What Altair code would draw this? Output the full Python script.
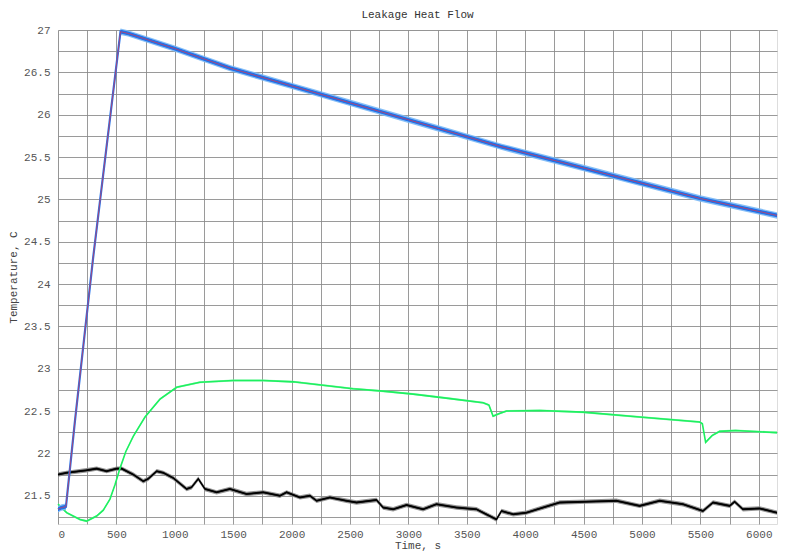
import altair as alt
import pandas as pd

FONT = "Courier New, Liberation Mono, monospace"

# Setpoint / heater temperature (blue noisy + red smooth)
set_t = [0, 30, 68, 145, 300, 535, 600, 1000, 1473, 2000, 2500, 3000, 3800, 4500, 5000, 5500, 6156]
set_v = [21.34, 21.36, 21.37, 22.38, 24.30, 26.98, 26.96, 26.78, 26.55, 26.34, 26.14, 25.94, 25.62, 25.37, 25.19, 25.01, 24.81]

# Green series
g_t = [0, 74, 188, 245, 331, 388, 445, 488, 530, 580, 644, 745, 873, 1016, 1215, 1500, 1757, 2014, 2270, 2527, 2784,
       3040, 3340, 3640, 3690, 3725, 3780, 3840, 4125, 4495, 4980, 5494, 5517, 5545, 5600, 5665, 5800, 6093, 6156]
g_v = [21.40, 21.30, 21.22, 21.20, 21.26, 21.33, 21.46, 21.63, 21.82, 22.02, 22.20, 22.43, 22.64, 22.78, 22.84, 22.86, 22.86,
       22.845, 22.805, 22.763, 22.735, 22.70, 22.65, 22.598, 22.57, 22.44, 22.47, 22.50, 22.507, 22.487,
       22.43, 22.37, 22.35, 22.13, 22.21, 22.26, 22.27, 22.25, 22.245]

# Black series
k_t = [0, 74, 245, 331, 416, 502, 545, 644, 730, 773, 845, 902, 987, 1101, 1144, 1201, 1258, 1358, 1472,
       1615, 1757, 1900, 1957, 2071, 2157, 2214, 2328, 2470, 2556, 2727, 2784, 2870, 2984, 3126, 3240,
       3412, 3583, 3640, 3754, 3797, 3897, 4011, 4153, 4296, 4524, 4781, 4980, 5151, 5351, 5522, 5608,
       5751, 5793, 5864, 6007, 6156]
k_v = [21.75, 21.77, 21.80, 21.82, 21.79, 21.82, 21.82, 21.75, 21.67, 21.70, 21.79, 21.77, 21.71, 21.58,
       21.60, 21.70, 21.58, 21.54, 21.58, 21.52, 21.54, 21.50, 21.54, 21.48, 21.50, 21.44, 21.48, 21.44,
       21.42, 21.45, 21.36, 21.34, 21.39, 21.34, 21.40, 21.36, 21.34, 21.30, 21.22, 21.32, 21.28, 21.30,
       21.36, 21.42, 21.43, 21.44, 21.38, 21.44, 21.40, 21.32, 21.42, 21.38, 21.43, 21.34, 21.35, 21.30]

x_grid = list(range(0, 6001, 250))
y_grid = [21.25 + 0.25 * i for i in range(24)]

set_df = pd.DataFrame({"t": set_t, "v": set_v})
g_df = pd.DataFrame({"t": g_t, "v": g_v})
k_df = pd.DataFrame({"t": k_t, "v": k_v})

X = alt.X(
    "t:Q",
    scale=alt.Scale(domain=[0, 6156], nice=False, zero=False),
    axis=alt.Axis(
        values=x_grid,
        labelExpr="datum.value % 500 === 0 ? format(datum.value, 'd') : ''",
        grid=True, gridColor="#888", gridOpacity=0.85, gridWidth=1,
        ticks=False, domain=False, labelPadding=4,
        labelFont=FONT, labelFontSize=11, labelColor="#555",
        title="Time, s", titleFont=FONT, titleFontSize=11, titleFontWeight="normal",
        titleColor="#444", titlePadding=0,
    ),
)


def Y(field):
    return alt.Y(
        field,
        scale=alt.Scale(domain=[21.166, 27.0], nice=False, zero=False),
        axis=alt.Axis(
            values=y_grid,
            labelExpr="datum.value % 0.5 === 0 ? format(datum.value, '~g') : ''",
            grid=True, gridColor="#888", gridOpacity=0.85, gridWidth=1,
            ticks=False, domain=False, labelPadding=8,
            labelFont=FONT, labelFontSize=11, labelColor="#555",
            title="Temperature, C", titleFont=FONT, titleFontSize=11, titleFontWeight="normal",
            titleColor="#444", titlePadding=5,
        ),
    )


def band(df, half, color, opacity=1.0):
    return alt.Chart(df).transform_calculate(
        lo=f"datum.v - {half}", hi=f"datum.v + {half}"
    ).mark_area(color=color, opacity=opacity).encode(x=X, y=Y("lo:Q"), y2="hi:Q")


def line(df, color, width, opacity=1.0):
    return alt.Chart(df).mark_line(color=color, strokeWidth=width, opacity=opacity).encode(x=X, y=Y("v:Q"))


layers = [
    band(k_df, 0.026, "#8a8a8a", 0.9),
    band(k_df, 0.012, "#111111"),
    line(k_df, "#000000", 1.3),
    band(g_df, 0.012, "#8af5ac", 0.9),
    line(g_df, "#1ef060", 1.6),
    band(set_df, 0.038, "#7ab8f6", 0.9),
    band(set_df, 0.022, "#1c70e8"),
    line(set_df, "#2474ec", 2.2),
    line(set_df, "#d8304a", 1.0, 0.7),
]

chart = alt.layer(*layers).properties(
    width=719,
    height=494,
    title=alt.TitleParams(
        "Leakage Heat Flow", font=FONT, fontSize=11, fontWeight="normal",
        color="#333", offset=4, anchor="middle",
    ),
    autosize=alt.AutoSizeParams(type="none"),
    padding={"left": 50, "top": 22, "right": 7, "bottom": 30},
).configure_view(stroke="#888", strokeWidth=1).configure(background="white")

chart.save("out.html", embed_options={"renderer": "svg", "actions": False})
